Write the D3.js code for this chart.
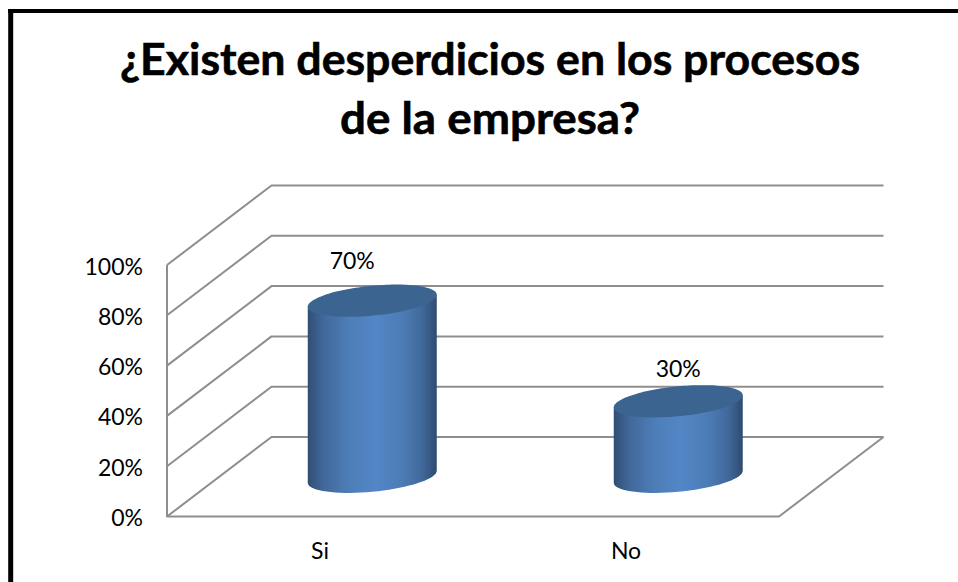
<!DOCTYPE html>
<html>
<head>
<meta charset="utf-8">
<script src="https://cdn.jsdelivr.net/npm/d3@7"></script>
<style>
  html, body { margin: 0; padding: 0; background: #fff; }
  svg { display: block; }
  text { font-family: Lato, "Open Sans", sans-serif; fill: #000; }
</style>
</head>
<body>
<svg id="chart" width="958" height="582"></svg>
<script>
// Survey result
const titleLines = ["¿Existen desperdicios en los procesos", "de la empresa?"];
const titleWidths = [740, 300];
const categories = ["Si", "No"];
const percentages = [70, 30];
const tickValues = [0, 20, 40, 60, 80, 100];
const labelShifts = [[-20, -32], [0, -24]];

const svg = d3.select("#chart");
const defs = svg.append("defs");

// Front plane of the 3D box and the shift to its back plane
const depthX = 104.5, depthY = -79.5;
const x = d3.scaleBand().domain(categories).range([167, 779]);
const y = d3.scaleLinear().domain([0, 100]).range([516.5, 265]);

// Side-lit shading across each cylinder
const shade = defs.append("linearGradient").attr("id", "cyl").attr("x1", 0).attr("x2", 1).attr("y1", 0).attr("y2", 0);
[[0, "#304e74"], [0.12, "#41689a"], [0.32, "#4e7eb8"], [0.52, "#5286c6"], [0.72, "#4d7db7"], [0.88, "#416a9c"], [1, "#2f4b70"]]
  .forEach(([o, c]) => shade.append("stop").attr("offset", o).attr("stop-color", c));

// Outer frame: top and left edges only
const border = svg.append("g").attr("stroke", "#000");
border.append("line").attr("x1", 8).attr("x2", 958).attr("y1", 11).attr("y2", 11).attr("stroke-width", 4);
border.append("line").attr("x1", 10.7).attr("x2", 10.7).attr("y1", 9).attr("y2", 582).attr("stroke-width", 5);

// Title, widened to its measured line lengths
svg.append("g").attr("text-anchor", "middle").attr("font-weight", 700).attr("font-size", 43)
  .attr("stroke", "#000").attr("stroke-width", 0.6)
  .selectAll("text").data(titleLines).join("text")
  .attr("x", 490).attr("y", (d, i) => 75 + i * 58.5)
  .attr("textLength", (d, i) => titleWidths[i])
  .attr("lengthAdjust", "spacingAndGlyphs")
  .text(d => d);

// Walls and gridlines
const grid = svg.append("g").attr("fill", "none").attr("stroke", "#8e8e8e").attr("stroke-width", 2).attr("stroke-linejoin", "round");
const [x0, x1] = x.range();
tickValues.forEach(t => {
  const p = d3.path();
  p.moveTo(x0, y(t));
  p.lineTo(x0 + depthX, y(t) + depthY);
  p.lineTo(x1 + depthX, y(t) + depthY);
  grid.append("path").attr("d", p);
});
const frame = d3.path();
frame.moveTo(x0, y(100));
frame.lineTo(x0, y(0));
frame.lineTo(x1, y(0));
frame.lineTo(x1 + depthX, y(0) + depthY);
grid.append("path").attr("d", frame);

// Axis labels
svg.append("g").attr("text-anchor", "end").attr("font-size", 23)
  .selectAll("text").data(tickValues).join("text")
  .attr("x", 143).attr("y", d => y(d) + 9.5).text(d => d + "%");
svg.append("g").attr("text-anchor", "middle").attr("font-size", 23)
  .selectAll("text").data(categories).join("text")
  .attr("x", d => x(d) + x.bandwidth() / 2).attr("y", 559).text(d => d);

// Cylinders, each resting at mid-depth of the floor
const radius = 64.5, tilt = 6, minor = 15;
const rim = (cx, cy) => d3.range(0, 2 * Math.PI, Math.PI / 36).map(a => [
  cx + radius * Math.cos(a),
  cy - tilt * Math.cos(a) + minor * Math.sin(a)
]);
const closed = d3.line().curve(d3.curveCardinalClosed);
const bars = svg.append("g").selectAll("g").data(categories).join("g");
bars.each(function (c, i) {
  const g = d3.select(this);
  const cx = x(c) + x.bandwidth() / 2 + depthX / 2;
  const yTop = y(percentages[i]) + depthY / 2;
  const yBase = y(0) + depthY / 2;
  // Body: the base rim's lower half joined up to the top rim
  const side = d3.path();
  side.moveTo(cx - radius, yTop + tilt);
  side.lineTo(cx - radius, yBase + tilt);
  d3.range(0, 37).map(k => Math.PI - k * Math.PI / 36).forEach(a =>
    side.lineTo(cx + radius * Math.cos(a), yBase - tilt * Math.cos(a) + minor * Math.sin(a)));
  side.lineTo(cx + radius, yTop - tilt);
  side.closePath();
  g.append("path").attr("d", side).attr("fill", "url(#cyl)");
  g.append("path").attr("d", closed(rim(cx, yTop))).attr("fill", "#3c6491");
  g.append("text").attr("text-anchor", "middle").attr("font-size", 23)
    .attr("x", cx + labelShifts[i][0]).attr("y", yTop + labelShifts[i][1]).text(percentages[i] + "%");
});
</script>
</body>
</html>
